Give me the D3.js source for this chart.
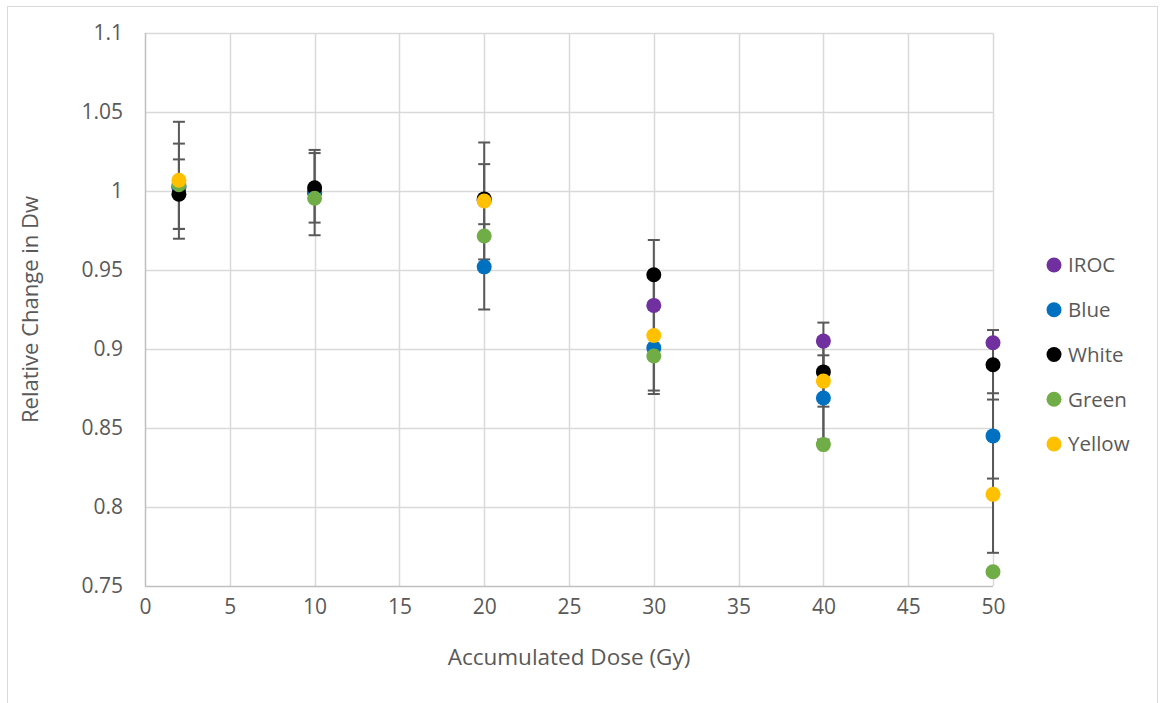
<!DOCTYPE html>
<html><head><meta charset="utf-8">
<script src="https://cdn.jsdelivr.net/npm/d3@7"></script>
<style>body{margin:0;background:#fff;}svg{display:block;font-family:"Open Sans",sans-serif;}</style>
</head><body><svg id="c" width="1160" height="703"></svg>
<script>
const doses = [2, 10, 20, 30, 40, 50];
const seriesNames = ["IROC", "Blue", "White", "Green", "Yellow"];
const colors = ["#7030A0", "#0070C0", "#000000", "#70AD47", "#FFC000"];
const irocVals   = [1.002, 0.999, 0.994, 0.9276, 0.905, 0.904];
const blueVals   = [1.003, 0.999, 0.952, 0.9007, 0.869, 0.845];
const whiteVals  = [0.998, 1.002, 0.995, 0.947, 0.8855, 0.890];
const greenVals  = [1.004, 0.9954, 0.9715, 0.8956, 0.8395, 0.759];
const yellowVals = [1.0068, null, 0.9937, 0.9085, 0.8797, 0.808];
const irocErr   = null;
const blueErr   = [0.027, 0.027, 0.027, 0.027, 0.027, 0.027];
const whiteErr  = [0.022, 0.022, 0.022, 0.022, 0.022, 0.022];
const greenErr  = null;
const yellowErr = [0.037, null, 0.037, 0.037, 0.037, 0.037];
const xTicks = [0, 5, 10, 15, 20, 25, 30, 35, 40, 45, 50];
const yTicks = [0.75, 0.8, 0.85, 0.9, 0.95, 1, 1.05, 1.1];
const yTickLabels = ["0.75", "0.8", "0.85", "0.9", "0.95", "1", "1.05", "1.1"];

const series = [
  {name: seriesNames[0], color: colors[0], vals: irocVals, err: irocErr},
  {name: seriesNames[1], color: colors[1], vals: blueVals, err: blueErr},
  {name: seriesNames[2], color: colors[2], vals: whiteVals, err: whiteErr},
  {name: seriesNames[3], color: colors[3], vals: greenVals, err: greenErr},
  {name: seriesNames[4], color: colors[4], vals: yellowVals, err: yellowErr}
];

const svg = d3.select("#c");
svg.append("rect").attr("x", 7.5).attr("y", 6.5).attr("width", 1150).attr("height", 720)
  .attr("fill", "#fff").attr("stroke", "#d9d9d9").attr("stroke-width", 1);

const L = 145, R = 993, T = 33, B = 586;
const x = d3.scaleLinear().domain([0, 50]).range([L, R]);
const y = d3.scaleLinear().domain([0.75, 1.1]).range([B, T]);

// grid
const g = svg.append("g");
g.selectAll(".vg").data(xTicks.slice(1)).join("line")
  .attr("x1", d => Math.round(x(d)) + 0.5).attr("x2", d => Math.round(x(d)) + 0.5)
  .attr("y1", T).attr("y2", B).attr("stroke", "#d9d9d9").attr("stroke-width", 1.5);
g.selectAll(".hg").data(yTicks.slice(1)).join("line")
  .attr("x1", L).attr("x2", R)
  .attr("y1", d => Math.round(y(d)) + 0.5).attr("y2", d => Math.round(y(d)) + 0.5)
  .attr("stroke", "#d9d9d9").attr("stroke-width", 1.5);
// axis lines
g.append("line").attr("x1", L + 0.5).attr("x2", L + 0.5).attr("y1", T).attr("y2", B + 0.5)
  .attr("stroke", "#bfbfbf").attr("stroke-width", 1.5);
g.append("line").attr("x1", L).attr("x2", R).attr("y1", B + 0.5).attr("y2", B + 0.5)
  .attr("stroke", "#bfbfbf").attr("stroke-width", 1.5);

// axes labels via d3 axes
const xAxis = d3.axisBottom(x).tickValues(xTicks).tickSize(0).tickPadding(10).tickFormat(d3.format("d"));
const xa = svg.append("g").attr("transform", `translate(0,${B})`).call(xAxis);
const yAxis = d3.axisLeft(y).tickValues(yTicks).tickSize(0).tickPadding(22)
  .tickFormat((d, i) => yTickLabels[i]);
const ya = svg.append("g").attr("transform", `translate(${L},0)`).call(yAxis);
[xa, ya].forEach(a => {
  a.select(".domain").remove();
  a.selectAll("text").attr("fill", "#595959").style("font-size", "21px").style("font-family", "'Open Sans',sans-serif");
});
xa.selectAll("text").attr("dy", "0.85em");

// axis titles
svg.append("text").attr("x", (L + R) / 2).attr("y", 665).attr("text-anchor", "middle")
  .attr("fill", "#595959").style("font-size", "22.5px").text("Accumulated Dose (Gy)");
svg.append("text").attr("transform", `translate(38,${(T + B) / 2}) rotate(-90)`).attr("text-anchor", "middle")
  .attr("fill", "#595959").style("font-size", "22px").text("Relative Change in Dw");

// error bars
const eb = svg.append("g");
series.forEach(s => {
  if (!s.err) return;
  doses.forEach((d, i) => {
    if (s.vals[i] == null || s.err[i] == null) return;
    const cx = x(d), lo = y(s.vals[i] - s.err[i]), hi = y(s.vals[i] + s.err[i]);
    const gg = eb.append("g").attr("stroke", "#595959").attr("stroke-width", 2);
    gg.append("line").attr("x1", cx).attr("x2", cx).attr("y1", Math.min(lo, B)).attr("y2", hi);
    if (lo <= B) gg.append("line").attr("x1", cx - 6).attr("x2", cx + 6).attr("y1", lo).attr("y2", lo);
    gg.append("line").attr("x1", cx - 6).attr("x2", cx + 6).attr("y1", hi).attr("y2", hi);
  });
});

// markers
series.forEach(s => {
  svg.append("g").selectAll("circle").data(doses.filter((d, i) => s.vals[i] != null)).join("circle")
    .attr("cx", d => x(d)).attr("cy", d => y(s.vals[doses.indexOf(d)])).attr("r", 7.5)
    .attr("fill", s.color);
});

// legend
const lg = svg.append("g");
const lgY = d3.scalePoint().domain(seriesNames).range([265, 444]);
series.forEach(s => {
  lg.append("circle").attr("cx", 1054).attr("cy", lgY(s.name)).attr("r", 7.5).attr("fill", s.color);
  lg.append("text").attr("x", 1068).attr("y", lgY(s.name)).attr("dy", "0.36em")
    .attr("fill", "#595959").style("font-size", "20.5px").text(s.name);
});
</script></body></html>
